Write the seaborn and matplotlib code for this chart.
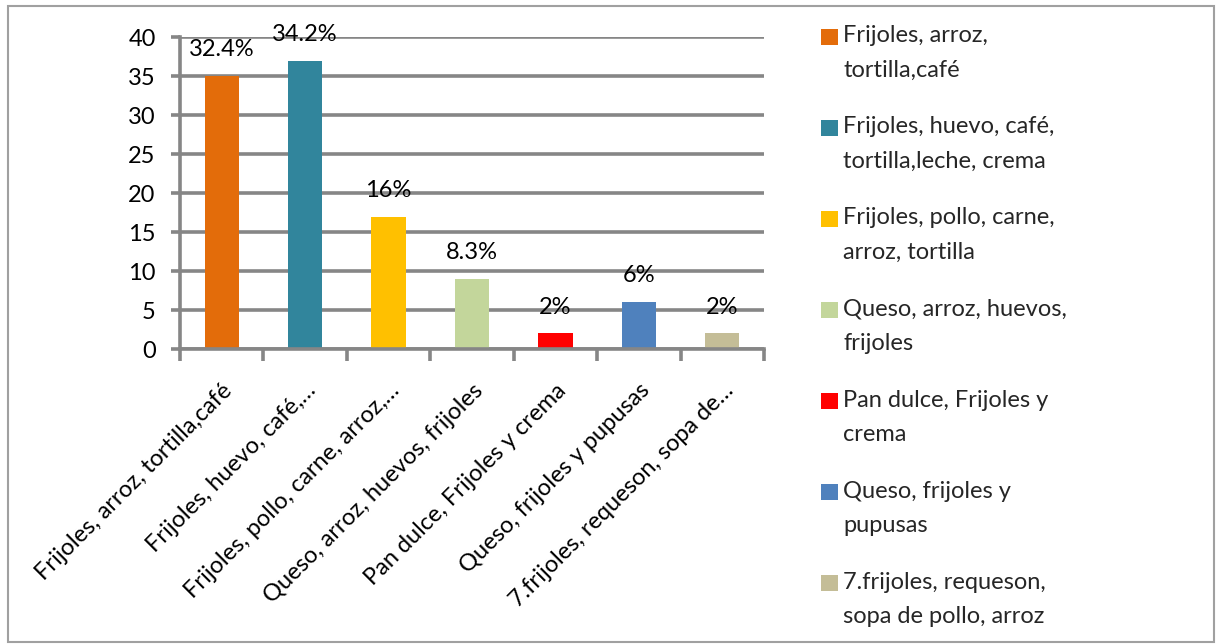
import matplotlib
matplotlib.use("Agg")
import matplotlib.pyplot as plt
from matplotlib.patches import Patch, Rectangle
import seaborn as sns
import pandas as pd

# Breakfast combinations reported (counts) and their share labels
categories = [
    "Frijoles, arroz, tortilla,café",
    "Frijoles, huevo, café, tortilla,leche, crema",
    "Frijoles, pollo, carne, arroz, tortilla",
    "Queso, arroz, huevos, frijoles",
    "Pan dulce, Frijoles y crema",
    "Queso, frijoles y pupusas",
    "7.frijoles, requeson, sopa de pollo, arroz",
]
counts = [35, 37, 17, 9, 2, 6, 2]
pct_labels = ["32.4%", "34.2%", "16%", "8.3%", "2%", "6%", "2%"]
tick_labels = [
    "Frijoles, arroz, tortilla,café",
    "Frijoles, huevo, café,…",
    "Frijoles, pollo, carne, arroz,…",
    "Queso, arroz, huevos, frijoles",
    "Pan dulce, Frijoles y crema",
    "Queso, frijoles y pupusas",
    "7.frijoles, requeson, sopa de…",
]
legend_labels = [
    "Frijoles, arroz,\ntortilla,café",
    "Frijoles, huevo, café,\ntortilla,leche, crema",
    "Frijoles, pollo, carne,\narroz, tortilla",
    "Queso, arroz, huevos,\nfrijoles",
    "Pan dulce, Frijoles y\ncrema",
    "Queso, frijoles y\npupusas",
    "7.frijoles, requeson,\nsopa de pollo, arroz",
]
colors = ["#E36C0A", "#31859C", "#FFC000", "#C3D69B", "#FF0000", "#4F81BD", "#C4BD97"]
y_ticks = [0, 5, 10, 15, 20, 25, 30, 35, 40]

sns.set_theme(style="white")
plt.rcParams["font.family"] = ["Lato", "DejaVu Sans"]

W, H = 1217, 644
fig = plt.figure(figsize=(W / 100, H / 100), dpi=100)
ax = fig.add_axes([180 / W, (H - 349) / H, (764 - 180) / W, (349 - 37.3) / H])

df = pd.DataFrame({"cat": categories, "n": counts})
sns.barplot(data=df, x="cat", y="n", hue="cat", palette=colors, width=0.41,
            legend=False, ax=ax, saturation=1, linewidth=0)

grid_c = "#868686"
fs = 17
ax.set_ylim(0, 40)
ax.set_xlim(-0.5, len(categories) - 0.5)
ax.set_yticks(y_ticks)
ax.set_axisbelow(True)
ax.yaxis.grid(True, color=grid_c, linewidth=2.6)
ax.xaxis.grid(False)
for side in ["top", "right"]:
    ax.spines[side].set_visible(False)
for side in ["left", "bottom"]:
    ax.spines[side].set_color(grid_c)
    ax.spines[side].set_linewidth(2.6)

ax.set_xlabel("")
ax.set_ylabel("")
ax.tick_params(axis="y", length=6.5, width=2.6, color=grid_c, pad=11,
               labelsize=fs, labelcolor="black", left=True)
ax.set_xticks(range(len(categories)))
ax.set_xticklabels(tick_labels, rotation=45, ha="right", rotation_mode="anchor",
                   fontsize=fs, color="black")
ax.tick_params(axis="x", which="major", length=0, pad=22)
ax.set_xticks([i - 0.5 for i in range(len(categories) + 1)], minor=True)
ax.tick_params(axis="x", which="minor", length=8.5, width=2.6, color=grid_c, bottom=True)

for i, (v, lab) in enumerate(zip(counts, pct_labels)):
    ax.annotate(lab, (i, v), xytext=(0, 19), textcoords="offset points",
                ha="center", va="center", fontsize=fs, color="black",
                annotation_clip=False)

handles = [Patch(facecolor=c, edgecolor="none") for c in colors]
leg = fig.legend(handles, legend_labels, loc="upper left",
                 bbox_to_anchor=(812 / W, 1 - 16 / H), frameon=False,
                 fontsize=fs, handlelength=0.68, handleheight=0.68,
                 handletextpad=0.25, labelspacing=1.5, borderaxespad=0,
                 alignment="left")
for t in leg.get_texts():
    t.set_linespacing(1.8)
# square markers sit level with the first line of each two-line entry
for p in leg.legend_handles:
    p.set_y(p.get_y() + 12.0)

fig.add_artist(Rectangle((8 / W, 2 / H), (1214 - 8) / W, (H - 6 - 2) / H,
                         transform=fig.transFigure, fill=False,
                         edgecolor="#A0A0A0", linewidth=1.5))

fig.savefig("out.png", dpi=100)
